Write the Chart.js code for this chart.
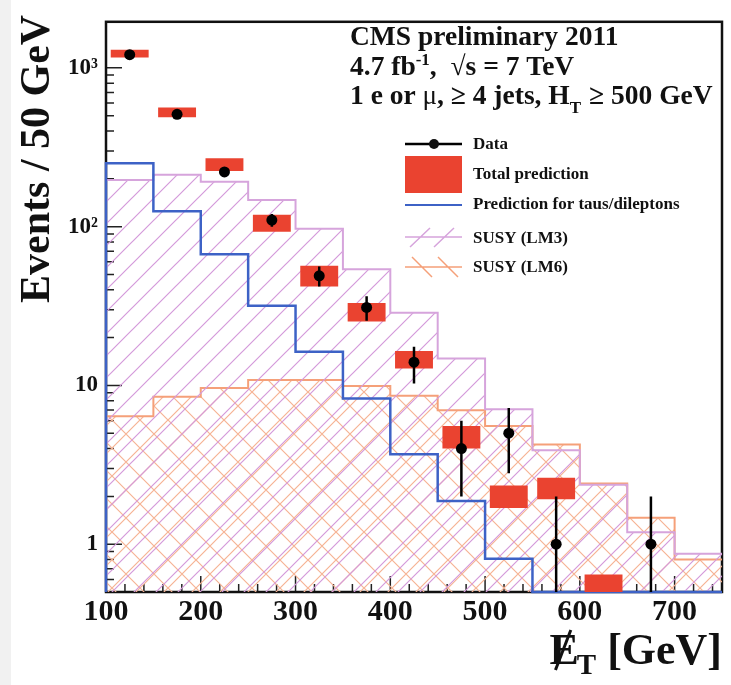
<!DOCTYPE html>
<html>
<head>
<meta charset="utf-8">
<title>CMS missing ET</title>
<script src="https://cdn.jsdelivr.net/npm/chart.js@4.4.1/dist/chart.umd.min.js"></script>
<style>
  html, body { margin: 0; padding: 0; background: #fff; }
  #wrap { width: 731px; height: 685px; }
</style>
</head>
<body>
<div id="wrap"><canvas id="metChart" width="731" height="685"></canvas></div>
<script>
// DATA (50 GeV bins)
let binEdges = [100, 150, 200, 250, 300, 350, 400, 450, 500, 550, 600, 650, 700, 750];
let binCenters = [125, 175, 225, 275, 325, 375, 425, 475, 525, 575, 625, 675, 725];
let dataCounts = [1210, 510, 221, 110, 49, 31, 14, 4, 5, 1, 0, 1, 0];
let dataErrLow = [1175, 487, 206, 100, 42, 25.5, 10.3, 2, 2.8, 0, null, 0, null];
let dataErrHigh = [1245, 533, 236, 120, 56, 36.5, 17.5, 6, 7.2, 2, null, 2, null];
let predLow = [1160, 489, 224, 93, 42, 25.3, 12.8, 4.0, 1.69, 1.92, 0.45, null, null];
let predHigh = [1300, 563, 270, 118.6, 56.7, 33.1, 16.5, 5.55, 2.34, 2.62, 0.645, null, null];
let tauPred = [251, 125, 67, 31.7, 16.3, 8.26, 3.68, 1.87, 0.81, 0, 0, 0, 0];
let susyLM3 = [197, 212, 192, 147, 97, 54, 28.7, 14.8, 7.07, 3.9, 2.37, 1.19, 0.87];
let susyLM6 = [6.4, 8.5, 9.65, 10.8, 10.8, 9.9, 8.6, 6.97, 5.55, 4.24, 2.41, 1.47, 0.80];
let xTickLabels = [100, 200, 300, 400, 500, 600, 700];
let yTickLabels = [1, 10, 100, 1000];
let yMin = 0.5;
let yMax = 1950;

let serif = "'Liberation Serif', 'DejaVu Serif', serif";
let red = '#ea4330';
let blue = '#3d62c6';
let lm3Color = '#d6a4dc';
let lm6Color = '#f5a079';

// HATCH PATTERNS
function makeHatch(size, color, cross) {
    let c = document.createElement('canvas');
    c.width = size;
    c.height = size;
    let g = c.getContext('2d');
    g.strokeStyle = color;
    g.lineWidth = 1.2;
    g.beginPath();
    // "/" lines
    g.moveTo(-1, size + 1); g.lineTo(size + 1, -1);
    g.moveTo(-1, 1); g.lineTo(1, -1);
    g.moveTo(size - 1, size + 1); g.lineTo(size + 1, size - 1);
    if (cross) {
        // "\" lines
        g.moveTo(-1, -1); g.lineTo(size + 1, size + 1);
        g.moveTo(size - 1, -1); g.lineTo(size + 1, 1);
        g.moveTo(-1, size - 1); g.lineTo(1, size + 1);
    }
    g.stroke();
    return g.createPattern(c, 'repeat');
}
let ctx = document.getElementById('metChart').getContext('2d');
let lm3Hatch = makeHatch(22, '#d49ada', false);
let lm6Hatch = makeHatch(28, '#f6b394', true);

// STEP HISTOGRAM POINTS (zero bins sit on the axis)
function stepPoints(values) {
    let pts = [{x: binEdges[0], y: yMin}];
    values.forEach((v, i) => pts.push({x: binEdges[i], y: v > 0 ? v : yMin}));
    let last = values[values.length - 1];
    pts.push({x: binEdges[binEdges.length - 1], y: last > 0 ? last : yMin});
    return pts;
}

let dataPoints = [];
let errPoints = [];
binCenters.forEach((c, i) => {
    if (dataCounts[i] > 0) dataPoints.push({x: c, y: dataCounts[i]});
    if (dataErrLow[i] !== null) {
        errPoints.push({x: c, y: dataErrLow[i] > 0 ? dataErrLow[i] : yMin / 2});
        errPoints.push({x: c, y: dataErrHigh[i]});
        errPoints.push({x: c, y: null});
    }
});

let predBoxes = [];
binCenters.forEach((c, i) => {
    if (predLow[i] !== null) predBoxes.push({x: c, y: [predLow[i], predHigh[i]]});
});

// FRAME, TICKS, TEXT
function runs(g, x, y, parts) {
    parts.forEach(p => {
        g.font = p.font;
        g.fillText(p.text, x, y + (p.dy || 0));
        x += g.measureText(p.text).width + (p.gap || 0);
    });
    return x;
}

let cmsDecor = {
    id: 'cmsDecor',
    beforeDraw(chart) {
        let g = chart.ctx;
        g.save();
        g.fillStyle = '#f1f1f1';
        g.fillRect(0, 0, 11, chart.height);
        g.restore();
    },
    beforeDatasetsDraw(chart) {
        let g = chart.ctx;
        let a = chart.chartArea;
        let xs = chart.scales.x;
        let ys = chart.scales.y;
        g.save();
        g.strokeStyle = '#222';
        g.lineWidth = 1.5;
        g.beginPath();
        for (let v = 100; v < 750; v += 20) {
            let px = xs.getPixelForValue(v);
            let len = v % 100 === 0 ? 16 : 8;
            g.moveTo(px, a.bottom);
            g.lineTo(px, a.bottom - len);
        }
        [0.1, 1, 10, 100, 1000].forEach(d => {
            for (let m = 1; m <= 9; m++) {
                let v = m * d;
                if (v < yMin || v > yMax) continue;
                let py = ys.getPixelForValue(v);
                g.moveTo(a.left, py);
                g.lineTo(a.left + (m === 1 ? 16 : 8), py);
            }
        });
        g.stroke();
        g.strokeStyle = '#111';
        g.lineWidth = 2.5;
        g.strokeRect(a.left, a.top, a.right - a.left, a.bottom - a.top);
        g.restore();
    },
    afterDraw(chart) {
        let g = chart.ctx;
        let a = chart.chartArea;
        g.save();
        g.fillStyle = '#111';
        g.textBaseline = 'alphabetic';
        g.textAlign = 'left';

        // header
        let big = 'bold 27.5px ' + serif;
        let small = 'bold 17px ' + serif;
        runs(g, 350, 45, [{text: 'CMS preliminary 2011', font: big}]);
        runs(g, 350, 75, [
            {text: '4.7 fb', font: big},
            {text: '-1', font: small, dy: -10},
            {text: ',  \u221As = 7 TeV', font: big}
        ]);
        runs(g, 350, 104, [
            {text: '1 e or ', font: big},
            {text: '\u03BC', font: '27px ' + serif},
            {text: ', \u2265 4 jets, H', font: big},
            {text: 'T', font: small, dy: 9, gap: 8},
            {text: '\u2265 500 GeV', font: big}
        ]);

        // legend
        let lx = 405, rx = 462, tx = 473;
        g.font = 'bold 17px ' + serif;
        g.strokeStyle = '#000';
        g.lineWidth = 2.5;
        g.beginPath(); g.moveTo(lx, 144); g.lineTo(rx, 144); g.stroke();
        g.beginPath(); g.arc(434, 144, 5, 0, Math.PI * 2); g.fill();
        g.fillText('Data', tx, 149);

        g.fillStyle = red;
        g.fillRect(lx, 156, rx - lx, 37);
        g.fillStyle = '#111';
        g.fillText('Total prediction', tx, 179);

        g.strokeStyle = blue;
        g.lineWidth = 2;
        g.beginPath(); g.moveTo(lx, 205); g.lineTo(rx, 205); g.stroke();
        g.fillText('Prediction for taus/dileptons', tx, 209);

        g.strokeStyle = lm3Color;
        g.lineWidth = 1.5;
        g.beginPath();
        g.moveTo(lx, 237); g.lineTo(rx, 237);
        g.moveTo(410, 247); g.lineTo(430, 228);
        g.moveTo(434, 247); g.lineTo(454, 228);
        g.stroke();
        g.fillText('SUSY (LM3)', tx, 243);

        g.strokeStyle = lm6Color;
        g.beginPath();
        g.moveTo(lx, 267); g.lineTo(rx, 267);
        g.moveTo(412, 257); g.lineTo(432, 277);
        g.moveTo(438, 257); g.lineTo(458, 277);
        g.stroke();
        g.fillText('SUSY (LM6)', tx, 272);

        // y title
        g.save();
        g.translate(49, a.top - 7);
        g.rotate(-Math.PI / 2);
        g.textAlign = 'right';
        g.font = 'bold 42px ' + serif;
        g.fillText('Events / 50 GeV', 0, 0);
        g.restore();

        // x title
        let xt = 'bold 44px ' + serif;
        let sub = 'bold 29px ' + serif;
        g.font = xt;
        let tail = ' [GeV]';
        let tailW = g.measureText(tail).width;
        let eW = g.measureText('E').width;
        g.font = sub;
        let tW = g.measureText('T').width;
        let x0 = a.right - tailW - tW - eW + 2;
        let base = 664;
        runs(g, x0, base, [
            {text: 'E', font: xt, gap: -2},
            {text: 'T', font: sub, dy: 10},
            {text: tail, font: xt}
        ]);
        g.strokeStyle = '#111';
        g.lineWidth = 3;
        g.beginPath();
        g.moveTo(x0 + 6, base + 6);
        g.lineTo(x0 + eW - 8, base - 34);
        g.stroke();
        g.restore();
    }
};

// CHART
let metChart = new Chart(ctx, {
    type: 'line',
    data: {
        datasets: [
            {
                label: 'Data',
                data: dataPoints,
                showLine: false,
                pointRadius: 5.5,
                pointBackgroundColor: '#000',
                pointBorderWidth: 0,
                order: 0
            },
            {
                label: 'Data errors',
                data: errPoints,
                borderColor: '#000',
                borderWidth: 2.5,
                pointRadius: 0,
                spanGaps: false,
                clip: 0,
                order: 1
            },
            {
                type: 'bar',
                label: 'Total prediction',
                data: predBoxes,
                backgroundColor: red,
                borderWidth: 0,
                barPercentage: 0.8,
                categoryPercentage: 1.0,
                grouped: false,
                clip: 0,
                order: 2
            },
            {
                label: 'Prediction for taus/dileptons',
                data: stepPoints(tauPred),
                stepped: true,
                borderColor: blue,
                borderWidth: 2.5,
                pointRadius: 0,
                fill: false,
                clip: 3,
                order: 3
            },
            {
                label: 'SUSY (LM3)',
                data: stepPoints(susyLM3),
                stepped: true,
                borderColor: lm3Color,
                borderWidth: 2,
                backgroundColor: lm3Hatch,
                pointRadius: 0,
                fill: 'start',
                clip: 0,
                order: 4
            },
            {
                label: 'SUSY (LM6)',
                data: stepPoints(susyLM6),
                stepped: true,
                borderColor: lm6Color,
                borderWidth: 2,
                backgroundColor: lm6Hatch,
                pointRadius: 0,
                fill: 'start',
                clip: 0,
                order: 5
            }
        ]
    },
    options: {
        responsive: false,
        animation: false,
        devicePixelRatio: 1,
        layout: {padding: {top: 10, right: 9, left: 0, bottom: 0}},
        plugins: {
            legend: {display: false},
            tooltip: {enabled: false},
            title: {display: false}
        },
        scales: {
            x: {
                type: 'linear',
                min: 100,
                max: 750,
                offset: false,
                grid: {display: false, drawTicks: false},
                border: {display: false},
                afterFit: (s) => { s.height = 93; },
                afterBuildTicks: (s) => { s.ticks = xTickLabels.map(v => ({value: v})); },
                ticks: {
                    color: '#111',
                    padding: 2,
                    maxRotation: 0,
                    font: {family: serif, size: 30, weight: 'bold'}
                }
            },
            y: {
                type: 'logarithmic',
                min: yMin,
                max: yMax,
                grid: {display: false, drawTicks: false},
                border: {display: false},
                afterFit: (s) => { s.width = 106; },
                afterBuildTicks: (s) => { s.ticks = yTickLabels.map(v => ({value: v})); },
                ticks: {
                    color: '#111',
                    padding: 8,
                    font: {family: serif, size: 23, weight: 'bold'},
                    callback: (v) => ({1: '1', 10: '10', 100: '10\u00B2', 1000: '10\u00B3'})[v]
                }
            }
        }
    },
    plugins: [cmsDecor]
});
</script>
</body>
</html>
